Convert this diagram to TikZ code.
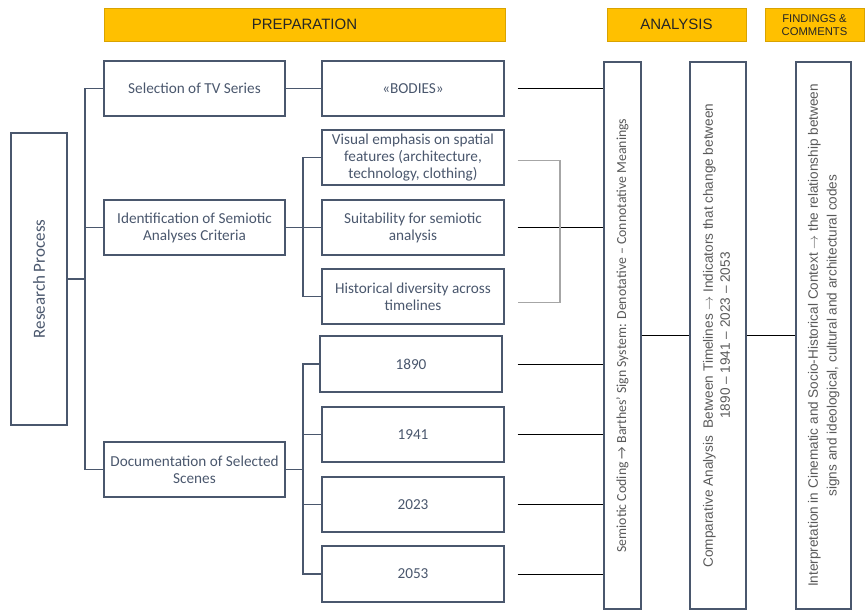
\documentclass[tikz,border=0pt]{standalone}
\usepackage{fontspec}
\usepackage{graphicx}
\setmainfont{Carlito}
\newfontfamily\headfont{Liberation Sans}

\definecolor{slate}{HTML}{4A576D}
\definecolor{gold}{HTML}{FFC000}
\definecolor{goldline}{HTML}{D9A300}
\definecolor{textgray}{HTML}{595959}
\definecolor{bracketgray}{HTML}{A6A6A6}

\tikzset{
  sz/.style 2 args={minimum width=#1*0.3mm, minimum height=#2*0.3mm},
  box/.style={draw=slate, line width=1.1pt, text=slate, align=center, inner sep=1pt,
    font=\fontsize{13}{14.5}\selectfont},
  head/.style={draw=goldline, line width=0.6pt, fill=gold, text=black!85, align=center,
    font=\headfont\fontsize{12.8}{14}\selectfont},
  tall/.style={box, sz={#1}{547}, text=textgray},
  link/.style={draw=slate, line width=1.1pt},
  tieline/.style={draw=black, line width=0.5pt},
  bracket/.style={draw=bracketgray, line width=1pt},
}

\begin{document}
\begin{tikzpicture}[x=0.3mm, y=-0.3mm]
  \useasboundingbox (0,0) rectangle (865,610);

  % phase headers
  \node[head, sz={401}{33}] (prep) at (304.5,24.5) {PREPARATION};
  \node[head, sz={139}{33}] (ana) at (676.5,24.5) {ANALYSIS};
  \node[head, sz={99}{33}, font=\headfont\fontsize{9.6}{10.6}\selectfont] (find) at (814.5,25)
    {FINDINGS \&\\COMMENTS};

  % root and first level
  \node[box, sz={56}{292}, font=\fontsize{14.5}{16}\selectfont] (rp) at (39,279) {\rotatebox{90}{Research Process}};
  \node[box, sz={181}{55}] (sel) at (194.5,88.5) {Selection of TV Series};
  \node[box, sz={181}{55}] (ident) at (194.5,227.5) {Identification of Semiotic\\Analyses Criteria};
  \node[box, sz={181}{55}] (doc) at (194.5,469.5) {Documentation of Selected\\Scenes};

  % second level
  \node[box, sz={182}{55}] (bodies) at (413,88.5) {«BODIES»};
  \node[box, sz={182}{55}] (visual) at (413,157.5) {Visual emphasis on spatial\\features (architecture,\\technology, clothing)};
  \node[box, sz={182}{55}] (suit) at (413,227.5) {Suitability for semiotic\\analysis};
  \node[box, sz={182}{55}] (hist) at (413,296.5) {Historical diversity across\\timelines};
  \node[box, sz={182}{56}] (y1890) at (411,364) {1890};
  \node[box, sz={182}{55}] (y1941) at (413,434.5) {1941};
  \node[box, sz={182}{55}] (y2023) at (413,504.5) {2023};
  \node[box, sz={182}{56}] (y2053) at (413,574) {2053};

  % analysis and findings columns
  \node[tall=37, font=\fontsize{11.8}{13}\selectfont] (sem) at (622.5,335.5)
    {\rotatebox{90}{Semiotic Coding → Barthes’ Sign System: Denotative – Connotative Meanings}};
  \node[tall=56, font=\headfont\fontsize{11.6}{14.5}\selectfont] (comp) at (718,335.5)
    {\rotatebox{90}{\begin{tabular}{@{}c@{}}Comparative Analysis\ \ Between Timelines $\rightarrow$ Indicators that change between\\
      1890 – 1941 – 2023 – 2053\end{tabular}}};
  \node[tall=55, font=\headfont\fontsize{11.6}{16}\selectfont] (interp) at (823.5,335.5)
    {\rotatebox{90}{\begin{tabular}{@{}c@{}}Interpretation in Cinematic and Socio-Historical Context $\rightarrow$ the relationship between\\
      signs and ideological, cultural and architectural codes\end{tabular}}};

  % tree connectors
  \coordinate (trunkA) at (85,0);
  \coordinate (trunkB) at (303,0);
  \draw[link] (rp.east) -- (rp.east -| trunkA);
  \draw[link] (sel.west) -- (sel.west -| trunkA) |- (doc.west);
  \draw[link] (ident.west) -- (ident.west -| trunkA);
  \draw[link] (sel) -- (bodies);
  \draw[link] (ident) -- (suit);
  \draw[link] (visual.west) -- (visual.west -| trunkB) |- (hist.west);
  \draw[link] (doc.east) -- (doc.east -| trunkB);
  \draw[link] (y1890.west) -- (y1890.west -| trunkB) |- (y2053.west);
  \draw[link] (y1941.west) -- (y1941.west -| trunkB);
  \draw[link] (y2023.west) -- (y2023.west -| trunkB);

  % lines into the coding column
  \draw[tieline] ([xshift=3.9mm]bodies.east) -- (bodies.east -| sem.west);
  \draw[tieline] ([xshift=3.9mm]suit.east) -- (suit.east -| sem.west);
  \draw[tieline] ([xshift=4.5mm]y1890.east) -- (y1890.east -| sem.west);
  \draw[tieline] ([xshift=3.9mm]y1941.east) -- (y1941.east -| sem.west);
  \draw[tieline] ([xshift=3.9mm]y2023.east) -- (y2023.east -| sem.west);
  \draw[tieline] ([xshift=3.9mm]y2053.east) -- (y2053.east -| sem.west);
  \coordinate (brk) at (560,0);
  \draw[bracket] ([xshift=3.9mm,yshift=-0.9mm]visual.east) -| ([yshift=-1.9mm]brk |- hist.east)
    -- ([xshift=3.9mm,yshift=-1.9mm]hist.east);
  \draw[tieline] (sem) -- (comp);
  \draw[tieline] (comp) -- (interp);
\end{tikzpicture}
\end{document}
